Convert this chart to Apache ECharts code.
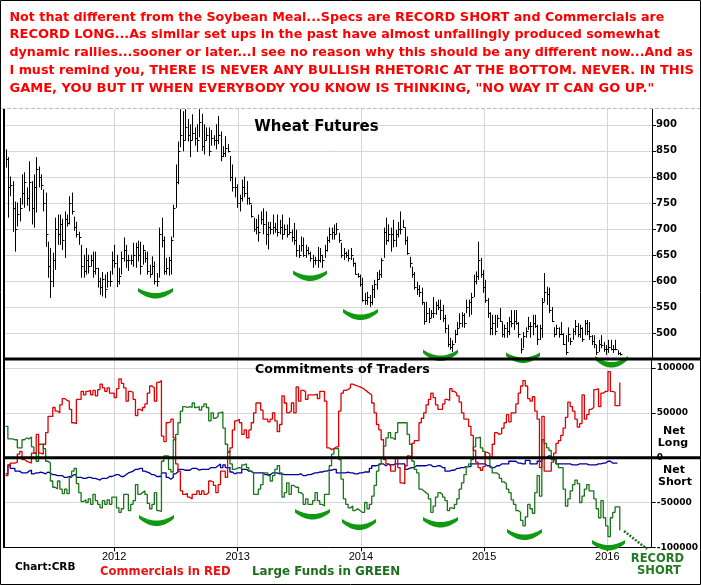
<!DOCTYPE html>
<html><head><meta charset="utf-8">
<script src="https://cdn.jsdelivr.net/npm/echarts@6/dist/echarts.min.js"></script>
<style>html,body{margin:0;padding:0;background:#fff}#c{width:701px;height:585px}</style>
</head><body><div id="c"></div>
<script>
// ---------- DATA ----------
const firstWeek = '2011-02-13';           // weekly bars / COT reports start
const yearTicks = ['2012-01-01','2013-01-01','2014-01-01','2015-01-01','2016-01-01'];
const priceTicks = [500,550,600,650,700,750,800,850,900];
const cotTicks = [-100,-50,0,50,100];     // thousands of contracts

const priceHigh = [
853,838,801,792,753,751,760,805,809,780,
830,792,805,838,820,805,776,770,676,664,
655,722,728,728,720,734,728,763,770,724,
714,695,670,651,664,651,651,657,657,626,
607,618,613,618,620,657,670,651,626,657,
684,670,651,651,674,674,678,676,670,657,
657,632,648,638,616,703,722,686,645,647,
686,747,824,868,930,926,930,911,901,920,
895,901,930,921,901,895,895,890,880,901,
917,887,859,878,863,840,824,799,786,766,
795,801,792,761,747,722,720,728,734,740,
734,714,714,728,712,728,718,728,709,709,
722,699,712,699,670,686,684,670,666,657,
651,647,666,664,651,670,686,703,703,709,
712,693,674,664,657,661,664,645,636,616,
613,607,578,580,574,593,603,618,622,645,
703,722,709,703,718,699,714,734,718,703,
686,647,628,618,599,593,588,560,561,549,
545,570,561,565,565,555,536,517,492,487,
507,522,539,541,539,565,565,578,613,619,
676,645,622,603,568,541,536,536,536,549,
522,517,522,532,545,545,545,522,491,503,
512,532,522,536,536,517,517,568,616,590,
588,551,512,517,512,522,501,497,512,492,
510,526,520,517,512,526,526,522,497,497,
478,488,497,484,478,488,488,478,488,468,464];

const priceLow = [
818,722,763,695,657,705,715,747,741,745,
734,709,703,732,780,775,734,666,607,568,
589,622,670,670,660,645,705,709,728,697,
684,670,607,607,613,615,628,607,613,588,
574,571,568,588,590,613,626,589,594,613,
638,626,620,632,628,626,638,613,632,636,
613,607,613,594,590,607,665,613,613,611,
613,684,741,786,857,849,870,868,838,870,
860,848,876,850,843,870,840,860,860,853,
863,830,838,838,847,792,772,761,741,734,
753,761,747,747,722,695,690,676,709,690,
670,661,690,690,693,686,690,680,690,684,
690,676,670,647,645,657,647,645,651,638,
626,632,626,636,626,645,657,674,680,680,
690,674,645,641,645,638,641,628,613,607,
590,561,555,555,551,555,568,584,603,607,
645,670,676,657,665,666,684,690,703,670,
651,626,607,584,574,570,555,517,522,520,
530,530,536,545,526,522,501,474,469,465,
482,497,511,512,511,539,532,536,570,594,
603,607,578,559,530,497,497,497,511,522,
493,492,492,497,512,507,517,492,462,472,
492,507,492,497,511,478,488,492,561,555,
539,522,493,497,492,497,478,459,484,478,
488,497,493,492,484,497,497,488,478,472,
459,465,472,465,459,463,468,463,468,459,458];

const priceClose = [
835,780,785,740,700,730,740,770,790,760,
790,740,780,815,800,785,750,690,630,600,
640,700,690,710,680,720,712,750,735,705,
690,685,630,620,640,630,640,620,625,600,
590,605,585,600,600,640,635,600,610,645,
660,640,640,640,650,665,650,630,660,645,
620,615,630,600,600,690,680,620,625,640,
680,740,790,850,880,870,895,880,870,885,
875,870,905,860,870,880,850,875,870,870,
880,840,845,855,850,800,780,780,750,760,
780,770,760,750,725,700,705,695,720,710,
690,705,700,705,700,695,705,690,700,690,
695,685,680,660,650,670,650,660,655,645,
640,640,640,650,640,660,680,690,695,690,
700,680,650,655,650,645,650,635,615,610,
595,565,565,570,560,585,595,605,615,640,
695,680,690,690,680,690,700,700,705,680,
655,635,615,590,585,580,560,525,540,530,
540,540,555,550,545,530,510,480,475,480,
500,510,520,535,520,550,560,570,600,610,
640,615,590,565,540,510,520,505,530,525,
500,510,505,525,520,525,520,500,470,495,
505,515,515,520,515,490,510,560,580,575,
545,525,500,510,500,500,480,465,500,485,
505,515,500,510,490,520,505,495,485,480,
465,480,478,470,470,475,470,470,470,462,460];

// Net positions, thousands of contracts
const commercials = [
-20,-9,-6,-6,-5,4,7,-2,-4,-5,
-6,5,5,26,5,4,15,28,46,46,
56,52,50,59,66,64,63,54,39,38,
65,65,74,70,74,75,70,75,69,76,
82,78,74,78,72,72,67,77,88,83,
78,63,74,73,65,47,54,52,56,60,
72,80,78,63,84,86,24,18,39,40,
43,22,-7,-15,-37,-41,-40,-44,-46,-41,
-41,-37,-41,-37,-41,-39,-26,-27,-31,-39,
-30,-15,-15,-22,6,11,31,41,43,39,
26,31,22,31,39,50,61,61,53,43,
43,40,43,50,41,29,37,69,61,50,
52,61,50,79,63,75,74,65,70,70,
70,71,66,74,74,63,11,9,10,12,
12,52,72,75,76,78,82,81,80,79,
78,76,74,72,70,61,50,37,31,20,
-2,-7,-9,-15,-15,0,-11,-28,-29,-9,
2,0,16,19,19,39,44,50,59,65,
72,67,59,54,54,60,65,64,77,74,
72,69,62,50,43,43,35,25,8,-5,
-11,-14,-10,6,4,0,15,28,26,27,
33,39,48,40,50,50,60,72,80,86,
80,66,63,68,52,43,-11,46,-15,-15,
-15,-5,5,16,19,25,33,45,62,57,
52,43,34,38,70,43,48,54,56,76,
77,57,72,74,74,96,74,73,58,58,84];

const largeFunds = [
35,21,21,20,20,11,11,20,22,21,
23,12,5,-4,15,15,10,-4,-6,-26,
-33,-35,-26,-35,-40,-35,-40,-22,-15,-12,
-29,-39,-49,-47,-50,-46,-52,-41,-48,-52,
-56,-48,-52,-47,-52,-44,-44,-56,-61,-57,
-41,-41,-59,-52,-48,-30,-41,-39,-37,-41,
-51,-57,-52,-39,-59,-60,-4,2,2,-13,
-16,20,26,39,52,57,56,57,56,61,
56,57,53,57,60,56,41,50,44,46,
50,51,33,15,7,-7,-13,-12,-11,-12,
-8,-7,-11,-15,-17,-41,-41,-35,-30,-17,
-17,-20,-26,-20,-13,-9,-17,-44,-39,-28,
-41,-31,-33,-33,-39,-41,-52,-46,-52,-52,
-48,-39,-48,-52,-54,-41,-41,-9,4,10,
10,-2,-24,-46,-52,-56,-54,-59,-57,-59,
-61,-61,-50,-57,-52,-43,-31,-15,-7,0,
13,22,28,22,20,28,39,39,39,39,
26,15,-4,-13,-17,-35,-37,-39,-41,-46,
-61,-54,-44,-39,-41,-44,-48,-59,-56,-57,
-52,-46,-35,-28,-19,-10,-7,-2,12,22,
23,11,7,0,-2,-11,-17,-17,-19,-23,
-27,-29,-35,-39,-47,-52,-59,-61,-70,-76,
-66,-52,-57,-62,-39,-20,-43,20,16,11,
8,-2,-2,-7,-11,-11,-35,-54,-46,-37,
-30,-25,-29,-50,-43,-35,-30,-37,-37,-46,
-57,-67,-48,-67,-76,-88,-67,-61,-55,-55,-81];

const smallSpecs = [
-18,-8,-12,-12,-15,-15,-17,-17,-17,-15,
-14,-18,-17,-17,-16,-17,-18,-16,-17,-19,
-19,-20,-20,-20,-22,-22,-21,-21,-19,-19,
-22,-22,-23,-23,-22,-22,-23,-23,-24,-25,
-23,-23,-23,-21,-21,-20,-19,-19,-21,-21,
-19,-17,-16,-15,-13,-13,-12,-12,-15,-16,
-17,-19,-19,-21,-21,-21,-17,-17,-22,-24,
-22,-18,-16,-13,-13,-14,-14,-14,-12,-12,
-12,-14,-13,-13,-13,-13,-11,-11,-11,-9,
-7,-11,-8,-11,-11,-16,-18,-17,-17,-17,
-13,-13,-15,-15,-17,-17,-17,-17,-17,-19,
-19,-19,-17,-17,-17,-18,-18,-19,-19,-19,
-19,-19,-19,-19,-18,-20,-20,-19,-19,-18,
-17,-17,-16,-16,-15,-15,-14,-14,-13,-13,
-17,-17,-17,-17,-16,-17,-17,-18,-18,-17,
-17,-16,-16,-16,-12,-9,-9,-8,-7,-7,
-9,-7,-8,-8,-7,-7,-7,-7,-7,-13,
-12,-11,-11,-9,-9,-9,-9,-9,-8,-8,
-10,-10,-9,-9,-11,-11,-15,-15,-14,-14,
-12,-12,-11,-11,-10,-10,-10,-7,-7,-7,
-7,-7,-7,-9,-9,-11,-11,-9,-9,-7,
-7,-7,-7,-4,-4,-4,-6,-6,-7,-7,
-3,-3,-7,-7,-7,-4,-4,0,0,2,
2,-2,-2,-7,-7,-7,-7,-7,-7,-8,
-8,-8,-7,-7,-7,-7,-8,-8,-8,-8,
-7,-7,-6,-6,-4,-4,-6,-6,-6,null,null];

// ---------- CHART ----------
const DAY = 86400000;
const t0 = Date.parse(firstWeek + 'T00:00:00Z');
const weeks = priceHigh.map((_, i) => t0 + i * 7 * DAY);
const xMin = t0 - 1.5 * DAY, xMax = xMin + 1916 * DAY;
const yearVals = yearTicks.map(s => Date.parse(s + 'T00:00:00Z'));

const GRID_L = 5, GRID_W = 647;
const FONT = '"DejaVu Sans", Verdana, sans-serif';
const gridLine = { show: true, lineStyle: { color: '#d6d6d6', width: 1 } };

const chart = echarts.init(document.getElementById('c'), null, { renderer: 'canvas' });

const option = {
  animation: false,
  backgroundColor: '#fff',
  grid: [
    { left: GRID_L, top: 109, width: GRID_W, height: 250 },
    { left: GRID_L, top: 360, width: GRID_W, height: 187.3 }
  ],
  xAxis: [
    { type: 'value', gridIndex: 0, min: xMin, max: xMax,
      axisLine: { show: false },
      axisTick: { show: false, customValues: yearVals },
      axisLabel: { show: false, customValues: yearVals },
      splitLine: gridLine },
    { type: 'value', gridIndex: 1, min: xMin, max: xMax,
      axisLine: { show: true, onZero: false, lineStyle: { color: '#000', width: 1 } },
      axisTick: { show: true, customValues: yearVals, length: 4, lineStyle: { color: '#000' } },
      axisLabel: { show: true, customValues: yearVals, margin: 4, color: '#000',
        fontSize: 11, fontFamily: '"Liberation Sans", Arial, sans-serif',
        formatter: v => String(new Date(v).getUTCFullYear()) },
      splitLine: gridLine }
  ],
  yAxis: [
    { type: 'value', gridIndex: 0, position: 'right', min: 451.3, max: 930.2,
      axisLine: { show: true, lineStyle: { color: '#000', width: 1 } },
      axisTick: { show: true, customValues: priceTicks, length: 4, lineStyle: { color: '#000' } },
      axisLabel: { show: true, customValues: priceTicks, margin: 4, color: '#000',
        fontSize: 10, fontWeight: 'bold', fontFamily: FONT },
      splitLine: gridLine },
    { type: 'value', gridIndex: 1, position: 'right', min: -100, max: 109,
      axisLine: { show: true, lineStyle: { color: '#000', width: 1 } },
      axisTick: { show: true, customValues: cotTicks, length: 4, lineStyle: { color: '#000' } },
      axisLabel: { show: true, customValues: cotTicks, margin: 5, color: '#000',
        fontSize: 9, fontWeight: 'bold', fontFamily: FONT,
        formatter: v => String(Math.round(v * 1000)) },
      splitLine: gridLine }
  ],
  series: [
    { type: 'custom', xAxisIndex: 0, yAxisIndex: 0, clip: true,
      data: weeks.map((t, i) => [t, priceHigh[i], priceLow[i], priceClose[i]]),
      encode: { x: 0, y: [1, 2, 3] },
      renderItem: function (params, api) {
        const t = api.value(0);
        const pH = api.coord([t, api.value(1)]);
        const pL = api.coord([t, api.value(2)]);
        const pC = api.coord([t, api.value(3)]);
        const x = Math.round(pH[0]) + 0.5;
        const yc = Math.round(pC[1]) + 0.5;
        return { type: 'group', children: [
          { type: 'line', shape: { x1: x, y1: pH[1], x2: x, y2: pL[1] }, style: { stroke: '#000', lineWidth: 1 } },
          { type: 'line', shape: { x1: x, y1: yc, x2: x + 2, y2: yc }, style: { stroke: '#000', lineWidth: 1 } }
        ] };
      } },
    { type: 'line', name: 'Small', xAxisIndex: 1, yAxisIndex: 1, step: 'end', showSymbol: false,
      data: weeks.map((t, i) => [t, smallSpecs[i]]), connectNulls: false,
      lineStyle: { color: '#0000a0', width: 1.3 }, z: 3 },
    { type: 'line', name: 'Large Funds', xAxisIndex: 1, yAxisIndex: 1, step: 'end', showSymbol: false,
      data: weeks.map((t, i) => [t, largeFunds[i]]),
      lineStyle: { color: '#1a741a', width: 1.3 }, z: 4 },
    { type: 'line', name: 'Commercials', xAxisIndex: 1, yAxisIndex: 1, step: 'end', showSymbol: false,
      data: weeks.map((t, i) => [t, commercials[i]]),
      lineStyle: { color: '#e00000', width: 1.3 }, z: 5 }
  ]
};
chart.setOption(option);

// ---------- ANNOTATIONS / FRAME ----------
const zeroY = chart.convertToPixel({ yAxisIndex: 1 }, 0);
const RED = '#ff0000', DGREEN = '#1d6e1d', AGREEN = '#119a11';

// crescent ("smile") outline as polygon points
function smile(x0, x1, yTop, yBot) {
  const xc = (x0 + x1) / 2, H = yBot - yTop, e = 3.5, N = 16;
  const q = (a, c, b, t) => (1 - t) * (1 - t) * a + 2 * (1 - t) * t * c + t * t * b;
  const pts = [];
  const cyIn = yTop + 2 * (H - 5.5), cyOut = yTop + e + 2 * (H - e);
  for (let k = 0; k <= N; k++) { const t = k / N; pts.push([q(x0, xc, x1, t), q(yTop, cyIn, yTop, t)]); }
  for (let k = N; k >= 0; k--) { const t = k / N; pts.push([q(x0, xc, x1, t), q(yTop + e, cyOut, yTop + e, t)]); }
  return pts;
}
const arcs = [
  [138, 173, 288, 298.5], [293, 327, 270.5, 281], [343, 378, 309, 320],
  [423, 458, 349.5, 361], [506, 540, 352.5, 363], [595, 628, 356, 367.5],
  [139, 174, 515, 526], [295, 330, 509, 519.5], [342, 376, 519, 530],
  [423, 458, 517, 527.5], [507, 542, 529, 540], [592, 625, 540, 550.5]
];

function txt(x, y, text, font, fill, align) {
  return { type: 'text', x: x, y: y, z: 120,
    style: { text: text, font: font, fill: fill, align: align || 'left', verticalAlign: 'middle' } };
}
const richStyle = {
  n: { fontFamily: FONT, fontWeight: 'bold', fontSize: 12.7, fill: RED },
  b: { fontFamily: FONT, fontWeight: 'bold', fontSize: 13, fill: RED }
};
const topLines = [
  '{n|Not that different from the Soybean Meal...Specs are }{b|RECORD SHORT}{n| and Commercials are}',
  '{b|RECORD LONG}{n|...As similar set ups in the past have almost unfailingly produced somewhat}',
  '{n|dynamic rallies...sooner or later...I see no reason why this should be any different now...And as}',
  '{n|I must remind you, }{b|THERE IS NEVER ANY BULLISH RHETORIC AT THE BOTTOM. NEVER. IN THIS}',
  '{b|GAME, YOU BUT IT WHEN EVERYBODY YOU KNOW IS THINKING, "NO WAY IT CAN GO UP."}'
];
const topY = [17.3, 34.5, 52.7, 70.8, 88.7];

const g = [];
g.push({ type: 'rect', z: 200, shape: { x: 0.5, y: 0.5, width: 700, height: 584 },
  style: { fill: 'none', stroke: '#000', lineWidth: 1 } });
g.push({ type: 'line', z: 90, shape: { x1: 1, y1: 108.5, x2: 700, y2: 108.5 },
  style: { stroke: '#bdbdbd', lineWidth: 1, lineDash: [4, 2] } });
arcs.forEach(a => g.push({ type: 'polygon', z: 50, shape: { points: smile(a[0], a[1], a[2], a[3]) },
  style: { fill: AGREEN } }));
g.push({ type: 'line', z: 110, shape: { x1: 4, y1: 109, x2: 4, y2: 548 }, style: { stroke: '#000', lineWidth: 2 } });
g.push({ type: 'line', z: 110, shape: { x1: 3, y1: 359, x2: 701, y2: 359 }, style: { stroke: '#000', lineWidth: 3 } });
g.push({ type: 'line', z: 110, shape: { x1: 5, y1: zeroY, x2: 701, y2: zeroY }, style: { stroke: '#000', lineWidth: 3 } });
g.push({ type: 'line', z: 110, shape: { x1: 624, y1: 531, x2: 647, y2: 549 },
  style: { stroke: DGREEN, lineWidth: 2.5, lineDash: [2, 1.5] } });
topLines.forEach((s, i) => g.push({ type: 'text', x: 9.5, y: topY[i], z: 120,
  style: { text: s, rich: richStyle, fill: RED, verticalAlign: 'middle', align: 'left' } }));
g.push(txt(316.5, 127, 'Wheat Futures', 'bold 15px ' + FONT, '#000', 'center'));
g.push(txt(255, 369.7, 'Commitments of Traders', 'bold 12.6px ' + FONT, '#000'));
g.push(txt(674, 431, 'Net', 'bold 11px ' + FONT, '#000', 'center'));
g.push(txt(673, 443.5, 'Long', 'bold 11px ' + FONT, '#000', 'center'));
g.push(txt(674, 470, 'Net', 'bold 11px ' + FONT, '#000', 'center'));
g.push(txt(675, 482, 'Short', 'bold 11px ' + FONT, '#000', 'center'));
g.push(txt(15, 567.3, 'Chart:CRB', 'bold 10.5px ' + FONT, '#000'));
g.push(txt(100, 572, 'Commercials in RED', 'bold 11.6px ' + FONT, '#ee1111'));
g.push(txt(252, 572, 'Large Funds in GREEN', 'bold 11.9px ' + FONT, DGREEN));
g.push(txt(657.5, 559, 'RECORD', 'bold 11.5px ' + FONT, '#237a23', 'center'));
g.push(txt(659, 570.7, 'SHORT', 'bold 11.5px ' + FONT, '#237a23', 'center'));

chart.setOption({ graphic: { elements: g } });
</script>
</body></html>
